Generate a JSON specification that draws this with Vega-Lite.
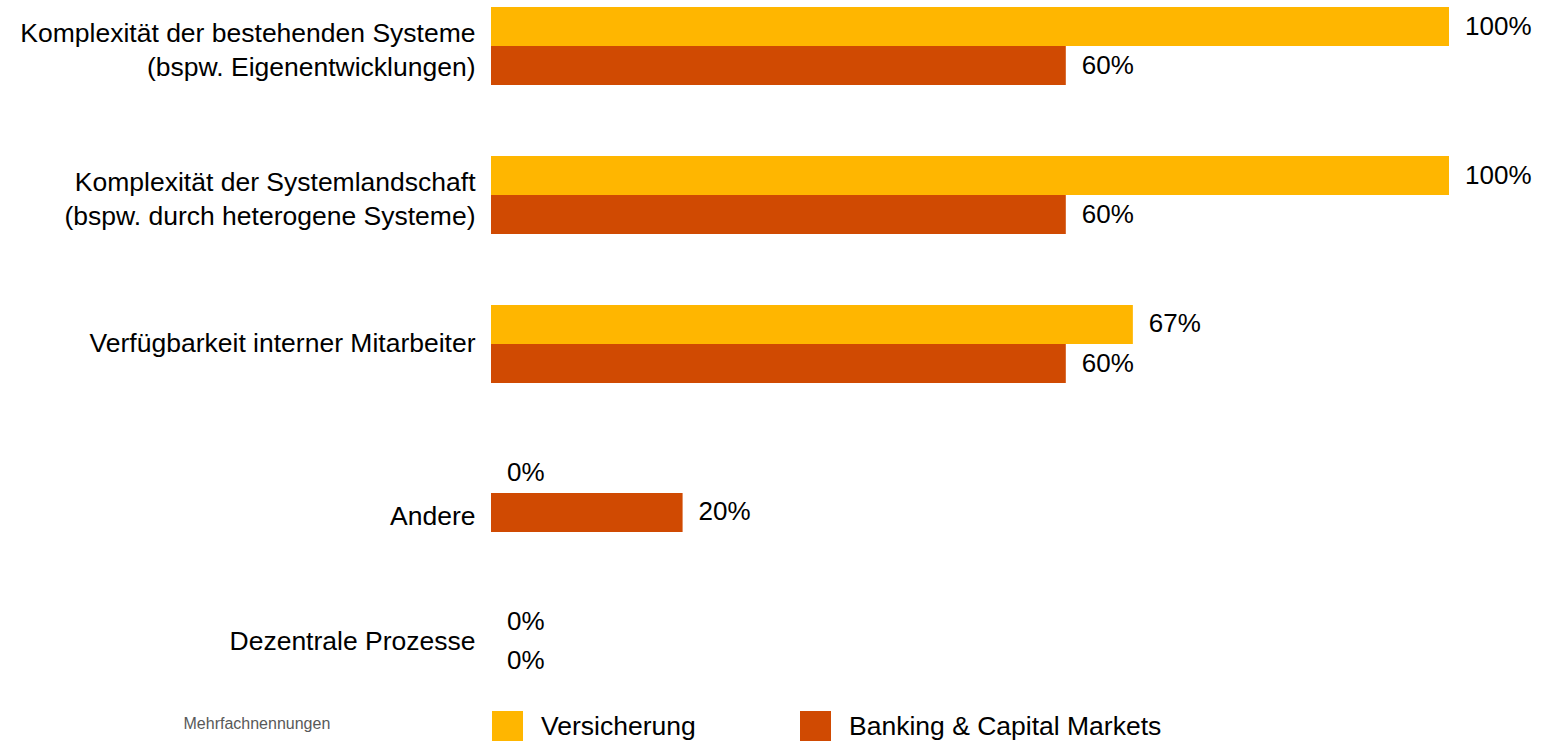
{
  "$schema": "https://vega.github.io/schema/vega-lite/v6.json",
  "width": 958,
  "height": 688,
  "autosize": {"type": "none"},
  "padding": {"left": 491, "top": 0, "right": 103, "bottom": 53},
  "background": "white",
  "config": {"view": {"stroke": null}, "font": "Liberation Sans"},
  "data": {"values": [
    {"cat": "Komplexität der bestehenden Systeme|(bspw. Eigenentwicklungen)", "series": "Versicherung", "value": 1.0},
    {"cat": "Komplexität der bestehenden Systeme|(bspw. Eigenentwicklungen)", "series": "Banking & Capital Markets", "value": 0.6},
    {"cat": "Komplexität der Systemlandschaft|(bspw. durch heterogene Systeme)", "series": "Versicherung", "value": 1.0},
    {"cat": "Komplexität der Systemlandschaft|(bspw. durch heterogene Systeme)", "series": "Banking & Capital Markets", "value": 0.6},
    {"cat": "Verfügbarkeit interner Mitarbeiter", "series": "Versicherung", "value": 0.67},
    {"cat": "Verfügbarkeit interner Mitarbeiter", "series": "Banking & Capital Markets", "value": 0.6},
    {"cat": "Andere", "series": "Versicherung", "value": 0},
    {"cat": "Andere", "series": "Banking & Capital Markets", "value": 0.2},
    {"cat": "Dezentrale Prozesse", "series": "Versicherung", "value": 0},
    {"cat": "Dezentrale Prozesse", "series": "Banking & Capital Markets", "value": 0}
  ]},
  "encoding": {
    "y": {"field": "cat", "type": "nominal", "sort": null,
      "scale": {"paddingInner": 0.4765, "paddingOuter": 0.047},
      "axis": {"title": null, "domain": false, "ticks": false, "labelFontSize": 26.5, "labelPadding": 16, "labelLimit": 600,
        "labelExpr": "split(datum.label, '|')", "labelLineHeight": 34, "labelColor": "#000000", "labelFont": "Liberation Sans",
        "labelOffset": {"condition": [{"test": "indexof(datum.value, '|') >= 0", "value": -12}, {"test": "datum.value === 'Andere'", "value": 24}], "value": 0}}},
    "yOffset": {"field": "series", "type": "nominal", "sort": ["Versicherung", "Banking & Capital Markets"]},
    "x": {"field": "value", "type": "quantitative", "scale": {"domain": [0, 1]},
      "axis": {"domain": false, "ticks": false, "labels": false, "grid": false, "title": "Mehrfachnennungen",
        "titleX": -308, "titleY": 35, "titleAlign": "left", "titleBaseline": "middle", "titleFontSize": 16,
        "titleFontWeight": "normal", "titleColor": "#595959", "titleFont": "Liberation Sans"}}
  },
  "layer": [
    {"mark": {"type": "bar"},
     "encoding": {"color": {"field": "series", "type": "nominal",
        "scale": {"domain": ["Versicherung", "Banking & Capital Markets"], "range": ["#FFB600", "#D04A02"]},
        "legend": {"title": null, "orient": "none", "legendX": 1, "legendY": 711, "direction": "horizontal",
          "symbolType": "square", "symbolSize": 961, "symbolStrokeWidth": 0, "labelFontSize": 26.5, "labelOffset": 18,
          "columnPadding": 104, "labelColor": "#000000", "labelFont": "Liberation Sans", "labelLimit": 500}}}},
    {"mark": {"type": "text", "align": "left", "dx": 16, "fontSize": 26, "color": "#000000"},
     "encoding": {"text": {"field": "value", "type": "quantitative", "format": ".0%"}}}
  ]
}
